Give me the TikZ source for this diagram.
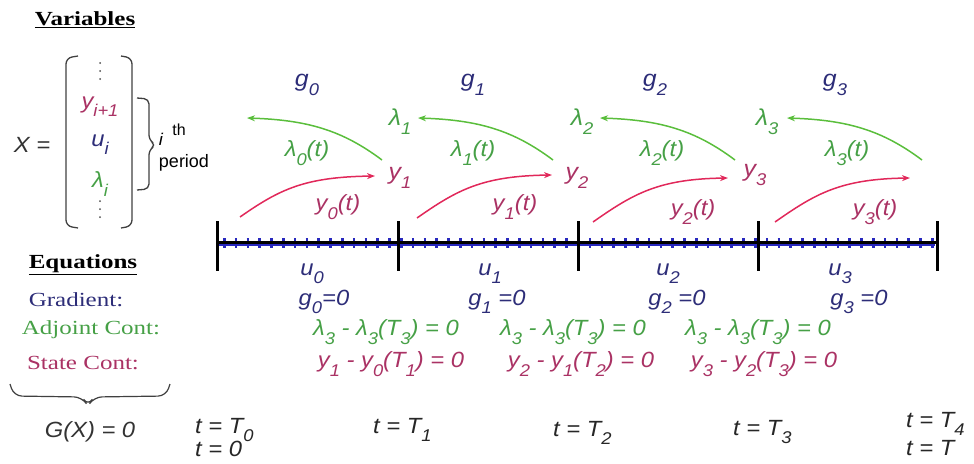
\documentclass[tikz,border=0pt]{standalone}
\usepackage{fontspec}
\setmainfont{Liberation Sans}
\newfontfamily\labfont{Liberation Sans}[FakeStretch=1.08]
\newfontfamily\wideserif{Liberation Serif}[FakeStretch=1.25]
\usetikzlibrary{decorations.pathreplacing,arrows.meta}
\definecolor{navy}{RGB}{45,45,120}
\definecolor{gtext}{RGB}{70,160,70}
\definecolor{rtext}{RGB}{170,50,100}
\definecolor{rarrow}{RGB}{225,40,90}
\definecolor{garrow}{RGB}{90,190,60}
\definecolor{tickblue}{RGB}{40,40,190}
\newcommand{\sbs}[1]{\raisebox{-0.38em}{\fontsize{17}{17}\selectfont #1}}
\begin{document}
\begin{tikzpicture}[x=1pt,y=-1pt,
  lab/.style={font=\fontsize{22}{24}\selectfont\labfont\itshape, inner sep=0pt, anchor=center},
  big/.style={font=\fontsize{23}{25}\selectfont\labfont\itshape, inner sep=0pt, anchor=center},
  ser/.style={font=\fontsize{20}{22}\selectfont\wideserif, inner sep=0pt, anchor=center},
  head/.style={font=\fontsize{20}{22}\selectfont\wideserif\bfseries, inner sep=0pt, anchor=center},
  sans/.style={font=\fontsize{18}{20}\selectfont, inner sep=0pt, anchor=center},
  garr/.style={draw=garrow, line width=1.5pt, -{Stealth[length=8pt,width=6pt]}},
  rarr/.style={draw=rarrow, line width=1.5pt, -{Stealth[length=8pt,width=6pt]}},
  bar/.style={line width=3pt, black},
  bracket/.style={draw=black!75, line width=1.3pt, rounded corners=6pt}
]
\useasboundingbox (0,0) rectangle (974,463);

% ---------- Variables ----------
\node[head] (varh) at (85,20) {\underline{Variables}};
\node[lab, text=black!80] (xeq) at (32,145) {X =};
\draw[bracket] (78,56) -- (66,58) -- (66,226) -- (78,228);
\draw[bracket] (121,56) -- (132,58) -- (132,226) -- (121,228);
\foreach \yy in {63,71,79,201,209,217}
  \fill[black!70] (100,\yy) circle (1pt);
\node[lab, text=rtext] (yv) at (100,107) {y\sbs{i+1}};
\node[lab, text=navy] (uv) at (100,145) {u\sbs{i}};
\node[lab, text=gtext] (lv) at (100,184) {λ\sbs{i}};
\draw[black!75, line width=1.3pt, rounded corners=5pt]
  (137,98) -- (149,99) -- (149,140) -- (156,145) -- (149,150) -- (149,189) -- (137,190);
\node[lab, font=\fontsize{17}{18}\selectfont\labfont\itshape] (iv) at (161,139) {i};
\node[sans, font=\fontsize{16}{18}\selectfont] (thv) at (179,130) {th};
\node[sans] (per) at (184,163) {period};

% ---------- Equations ----------
\node[head] (eqh) at (83,265) {\underline{Equations}};
\node[ser, text=navy] (grad) at (76,300) {Gradient:};
\node[ser, text=gtext] (adj) at (91,330) {Adjoint Cont:};
\node[ser, text=rtext] (stc) at (83,363) {State Cont:};
\draw[black!75, line width=1.2pt, rounded corners=8pt]
  (10,384) -- (14,396) -- (82,397) -- (88,406) -- (94,397) -- (166,396) -- (170,384);
\node[lab, text=black!80] (gx) at (90,432) {G(X) = 0};

% ---------- Axis ----------
\draw[tickblue, line width=1.5pt] (219,245) -- (935,245);
\draw[tickblue, line width=10pt, dash pattern=on 2.5pt off 9.3pt] (223,243) -- (935,243);
\draw[line width=3pt] (217,242) -- (937,242);
\foreach \xx/\i in {217/0,398/1,578/2,758/3,937/4}
  \draw[bar] (\xx,221) coordinate (bt\i) -- (\xx,271) coordinate (bb\i);

% ---------- top labels ----------
\foreach \xx/\i in {307/0,473/1,655/2,835/3}
  \node[big, text=navy] (g\i) at (\xx,85) {g\sbs{\i}};
\foreach \xx/\i in {400/1,582/2,767/3}
  \node[big, text=gtext] (lam\i) at (\xx,122) {λ\sbs{\i}};
\foreach \xx/\yy/\i in {400/178/1,577/178/2,755/175/3}
  \node[big, text=rtext] (yy\i) at (\xx,\yy) {y\sbs{\i}};
\foreach \xx/\i in {307/0,473/1,662/2,847/3}
  \node[lab, text=gtext] (lt\i) at (\xx,153) {λ\sbs{\i}(t)};
\foreach \xx/\yy/\i in {338/207/0,515/207/1,693/212/2,875/212/3}
  \node[lab, text=rtext] (yt\i) at (\xx,\yy) {y\sbs{\i}(t)};

% ---------- arrows ----------
\foreach \s/\e/\i in {382/247/0,553/418/1,735/600/2,922/787/3}{
  \coordinate (gs\i) at (\s,160);
  \coordinate (ge\i) at (\e,118);
  \draw[garr] (gs\i) .. controls +(-40,-30) and +(60,2) .. (ge\i);
}
\foreach \s/\sy/\e/\ey/\i in {240/217/375/176/0,417/218/552/175/1,593/222/728/178/2,775/222/910/178/3}{
  \coordinate (rs\i) at (\s,\sy);
  \coordinate (re\i) at (\e,\ey);
  \draw[rarr] (rs\i) .. controls +(40,-28) and +(-70,1) .. (re\i);
}

% ---------- below axis ----------
\foreach \xx/\i in {312/0,490/1,668/2,840/3}
  \node[lab, text=navy] (u\i) at (\xx,274) {u\sbs{\i}};
\node[lab, text=navy] (gz0) at (324,302) {g\sbs{0}=0};
\node[lab, text=navy] (gz1) at (497,302) {g\sbs{1} =0};
\node[lab, text=navy] (gz2) at (677,302) {g\sbs{2} =0};
\node[lab, text=navy] (gz3) at (859,302) {g\sbs{3} =0};
\foreach \xx/\i in {386/1,573/2,758/3}
  \node[lab, text=gtext] (ac\i) at (\xx,332) {λ\sbs{3} - λ\sbs{3}(T\sbs{3}) = 0};
\node[lab, text=rtext] (sc1) at (391,364) {y\sbs{1} - y\sbs{0}(T\sbs{1}) = 0};
\node[lab, text=rtext] (sc2) at (581,364) {y\sbs{2} - y\sbs{1}(T\sbs{2}) = 0};
\node[lab, text=rtext] (sc3) at (764,364) {y\sbs{3} - y\sbs{2}(T\sbs{3}) = 0};

% ---------- time labels ----------
\node[lab, anchor=west, text=black!85] (t0) at (195,430) {t = T\sbs{0}};
\node[lab, anchor=west, text=black!85] (t0b) at (195,449) {t = 0};
\node[lab, anchor=west, text=black!85] (t1) at (373,430) {t = T\sbs{1}};
\node[lab, anchor=west, text=black!85] (t2) at (553,433) {t = T\sbs{2}};
\node[lab, anchor=west, text=black!85] (t3) at (733,432) {t = T\sbs{3}};
\node[lab, anchor=west, text=black!85] (t4) at (906,424) {t = T\sbs{4}};
\node[lab, anchor=west, text=black!85] (tT) at (906,448) {t = T};
\end{tikzpicture}
\end{document}
